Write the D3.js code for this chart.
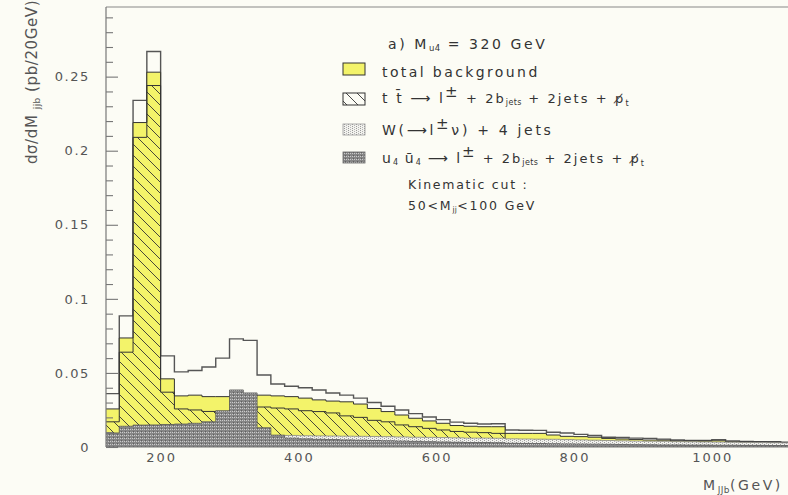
<!DOCTYPE html>
<html>
<head>
<meta charset="utf-8">
<script src="https://cdn.jsdelivr.net/npm/d3@7"></script>
<style>
html, body { margin: 0; padding: 0; background: #fcfcf5; }
svg { display: block; font-family: "DejaVu Sans", sans-serif; }
</style>
</head>
<body>
<div id="chart"></div>
<script>
// lower edge of each 20 GeV bin
var binLow = [120,140,160,180,200,220,240,260,280,300,320,340,360,380,400,420,440,460,480,500,
              520,540,560,580,600,620,640,660,680,700,720,740,760,780,800,820,840,860,880,900,
              920,940,960,980,1000,1020,1040,1060,1080,1100]
var binWidth = 20

// signal + background (white, outlined)
var totalSigBkg = [0.036,0.0885,0.234,0.267,0.0615,0.0507,0.0516,0.054,0.060,0.073,0.072,0.0486,0.0425,0.041,0.040,0.0385,0.0365,0.035,0.033,0.030,
                   0.0275,0.025,0.0225,0.0203,0.0185,0.0168,0.016,0.0155,0.0157,0.0115,0.0113,0.0112,0.010,0.0094,0.0085,0.0078,0.0066,0.0064,0.006,0.0058,
                   0.0053,0.0047,0.0045,0.0044,0.005,0.004,0.0037,0.0036,0.0035,0.0032]
// total background (yellow)
var totalBkg = [0.0257,0.0736,0.219,0.253,0.046,0.0345,0.035,0.034,0.034,0.0345,0.0345,0.035,0.0345,0.034,0.033,0.0318,0.031,0.0305,0.029,0.026,
                0.0239,0.0216,0.0194,0.0176,0.016,0.0145,0.014,0.0137,0.0137,0.0092,0.0092,0.0092,0.0081,0.0072,0.007,0.0066,0.0058,0.0054,0.005,0.0047,
                0.0046,0.0041,0.004,0.004,0.0042,0.0035,0.0034,0.0033,0.0032,0.0029]
// t tbar (hatched)
var ttbar = [0.017,0.064,0.209,0.244,0.037,0.0257,0.025,0.024,0.0235,0.025,0.025,0.027,0.0263,0.0257,0.0245,0.0239,0.023,0.021,0.020,0.018,
             0.017,0.0149,0.0137,0.0126,0.0115,0.0105,0.010,0.0097,0.0092,0.0048,0.0047,0.0046,0.0044,0.0042,0.004,0.0038,0.0036,0.0034,0.0032,0.0031,
             0.003,0.0029,0.0028,0.0027,0.0026,0.0025,0.0024,0.0023,0.0022,0.0021]
// W + 4 jets (light stipple)
var wjets = [0.006,0.007,0.008,0.008,0.008,0.008,0.008,0.008,0.008,0.008,0.008,0.008,0.0078,0.0078,0.0076,0.0075,0.0074,0.0073,0.0072,0.0071,
             0.007,0.0068,0.0066,0.0065,0.0064,0.0062,0.006,0.006,0.0059,0.0055,0.0054,0.0053,0.0052,0.005,0.0048,0.0046,0.0044,0.0042,0.004,0.0039,
             0.0038,0.0036,0.0035,0.0034,0.0033,0.0032,0.0031,0.003,0.0029,0.0028]
// u4 u4bar signal (dark stipple)
var signal = [0.0095,0.014,0.0148,0.0149,0.0152,0.0155,0.016,0.017,0.0245,0.0385,0.0365,0.013,0.008,0.006,0.0055,0.0052,0.005,0.0048,0.0046,0.0044,
              0.0042,0.004,0.0038,0.0036,0.0034,0.0032,0.003,0.003,0.0029,0.0025,0.0024,0.0023,0.0022,0.0021,0.002,0.0019,0.0018,0.0017,0.0016,0.0015,
              0.0014,0.0014,0.0013,0.0013,0.0012,0.0012,0.0011,0.0011,0.001,0.001]

var yTicks = [0, 0.05, 0.1, 0.15, 0.2, 0.25]
var yTickLabels = ["0", "0.05", "0.1", "0.15", "0.2", "0.25"]
var yMinor = [0.01,0.02,0.03,0.04,0.06,0.07,0.08,0.09,0.11,0.12,0.13,0.14,0.16,0.17,0.18,0.19,0.21,0.22,0.23,0.24,0.26,0.27,0.28,0.29]
var xTicks = [200, 400, 600, 800, 1000]

var width = 788, height = 495
var plotLeft = 106, plotTop = 7, plotBottom = 447

var svg = d3.select("#chart").append("svg")
    .attr("width", width)
    .attr("height", height)

svg.append("rect").attr("width", width).attr("height", height).attr("fill", "#fcfcf5")

var x = d3.scaleLinear().domain([120, 1120]).range([105.5, 105.5 + 1000 * 0.689])
var y = d3.scaleLinear().domain([0, 0.297]).range([plotBottom, plotTop])

// patterns
var defs = svg.append("defs")

var hatch = defs.append("pattern").attr("id", "hatch")
    .attr("patternUnits", "userSpaceOnUse").attr("width", 11).attr("height", 11)
hatch.append("path")
    .attr("d", "M0,0L11,11M-4,7L4,15M7,-4L15,4")
    .attr("stroke", "#333").attr("stroke-width", 0.9)

var hatchBox = defs.append("pattern").attr("id", "hatchBox")
    .attr("patternUnits", "userSpaceOnUse").attr("width", 11).attr("height", 11)
hatchBox.append("rect").attr("width", 11).attr("height", 11).attr("fill", "#fcfcf5")
hatchBox.append("path")
    .attr("d", "M0,0L11,11M-4,7L4,15M7,-4L15,4")
    .attr("stroke", "#333").attr("stroke-width", 0.9)

var sigPat = defs.append("pattern").attr("id", "sigPat")
    .attr("patternUnits", "userSpaceOnUse").attr("width", 4).attr("height", 3)
sigPat.append("rect").attr("width", 4).attr("height", 3).attr("fill", "#868686")
sigPat.append("rect").attr("x", 0).attr("y", 0).attr("width", 1).attr("height", 1).attr("fill", "#cbcbcb")
sigPat.append("rect").attr("x", 2).attr("y", 0).attr("width", 1).attr("height", 1).attr("fill", "#cbcbcb")
sigPat.append("rect").attr("x", 1).attr("y", 2).attr("width", 1).attr("height", 1).attr("fill", "#606060")

var wPat = defs.append("pattern").attr("id", "wPat")
    .attr("patternUnits", "userSpaceOnUse").attr("width", 4).attr("height", 2)
wPat.append("rect").attr("width", 4).attr("height", 2).attr("fill", "#f2f2ee")
wPat.append("rect").attr("x", 0).attr("y", 0).attr("width", 1).attr("height", 1).attr("fill", "#9a9a9a")
wPat.append("rect").attr("x", 2).attr("y", 1).attr("width", 1).attr("height", 1).attr("fill", "#b5b5b5")

defs.append("clipPath").attr("id", "plotClip")
    .append("rect").attr("x", plotLeft).attr("y", plotTop).attr("width", width - plotLeft).attr("height", plotBottom - plotTop)

function steps(vals) {
    var pts = []
    vals.forEach(function(v, i) {
        pts.push([binLow[i], v])
        pts.push([binLow[i] + binWidth, v])
    })
    return pts
}

var area = d3.area()
    .x(function(d) { return x(d[0]) })
    .y0(y(0))
    .y1(function(d) { return y(d[1]) })

var line = d3.line()
    .x(function(d) { return x(d[0]) })
    .y(function(d) { return y(d[1]) })

var g = svg.append("g").attr("clip-path", "url(#plotClip)")

var layers = [
    { vals: totalSigBkg, fill: "none", stroke: "#555", sw: 1.4 },
    { vals: totalBkg, fill: "#f3f36a", stroke: "#333", sw: 1 },
    { vals: ttbar, fill: "url(#hatch)", stroke: "#333", sw: 1 },
    { vals: wjets, fill: "url(#wPat)", stroke: "#888", sw: 0.8 },
    { vals: signal, fill: "url(#sigPat)", stroke: "#555", sw: 0.8 }
]

layers.forEach(function(l) {
    var pts = steps(l.vals)
    if (l.fill != "none") {
        g.append("path").datum(pts).attr("d", area).attr("fill", l.fill)
    }
    g.append("path").datum(pts).attr("d", line)
        .attr("fill", "none").attr("stroke", l.stroke).attr("stroke-width", l.sw)
})

// frame and axes
svg.append("line").attr("x1", plotLeft).attr("x2", width).attr("y1", plotTop).attr("y2", plotTop)
    .attr("stroke", "#888").attr("stroke-width", 1.2)
svg.append("line").attr("x1", plotLeft).attr("x2", width).attr("y1", plotBottom).attr("y2", plotBottom)
    .attr("stroke", "#777").attr("stroke-width", 1)

svg.append("g").attr("transform", "translate(" + plotLeft + ",0)")
    .call(d3.axisRight(y).tickValues(yMinor).tickSize(7).tickFormat(""))
svg.append("g").attr("transform", "translate(" + plotLeft + ",0)")
    .call(d3.axisRight(y).tickValues(yTicks).tickSize(12).tickFormat(""))
svg.selectAll(".domain").remove()
svg.selectAll(".tick line").attr("stroke", "#777").attr("stroke-width", 1.1)
svg.append("line").attr("x1", plotLeft).attr("x2", plotLeft).attr("y1", plotTop).attr("y2", plotBottom)
    .attr("stroke", "#777").attr("stroke-width", 1.2)

svg.append("g").selectAll("text")
    .data(yTicks)
    .enter()
    .append("text")
    .attr("x", 90)
    .attr("y", function(d) { return y(d) })
    .attr("dy", "0.36em")
    .attr("text-anchor", "end")
    .attr("font-size", 13)
    .attr("letter-spacing", 1.6)
    .attr("fill", "#555")
    .text(function(d, i) { return yTickLabels[i] })

svg.append("g").selectAll("text")
    .data(xTicks)
    .enter()
    .append("text")
    .attr("x", function(d) { return x(d) + 1 })
    .attr("y", 462)
    .attr("text-anchor", "middle")
    .attr("font-size", 13)
    .attr("letter-spacing", 2)
    .attr("fill", "#555")
    .text(function(d) { return d })

// rich text helper: parts = [text, fontSize, shift]
function rich(sel, px, py, parts, spacing, anchor, transform, colour) {
    var t = sel.append("text").attr("x", px).attr("y", py)
        .attr("fill", colour || "#333").attr("letter-spacing", spacing)
    if (anchor) t.attr("text-anchor", anchor)
    if (transform) t.attr("transform", transform)
    var cur = 0
    parts.forEach(function(p) {
        t.append("tspan")
            .attr("dy", p[2] - cur)
            .attr("font-size", p[1])
            .attr("letter-spacing", p[1] < 11 ? 0.4 : spacing)
            .text(p[0])
        cur = p[2]
    })
    return t
}

// axis titles
rich(svg, 0, 0, [["d\u03c3/dM ", 15, 0], ["jjb", 9, 3], [" (pb/20GeV)", 15, 0]], 0.6, "middle",
    "translate(37,82) rotate(-90)", "#555")
rich(svg, 703, 490, [["M", 14, 0], ["JJb", 9, 3], ["(GeV)", 14, 0]], 2.6, null, null, "#555")

// legend
var leg = svg.append("g")
rich(leg, 388, 49, [["a)  M", 14, 0], ["u4", 8.5, 2], [" = 320 GeV", 14, 0]], 2.6)

leg.append("rect").attr("x", 343).attr("y", 63).attr("width", 22).attr("height", 12)
    .attr("fill", "#f3f36a").attr("stroke", "#333").attr("stroke-width", 1)
leg.append("rect").attr("x", 343).attr("y", 93).attr("width", 22).attr("height", 12)
    .attr("fill", "url(#hatchBox)").attr("stroke", "#333").attr("stroke-width", 1)
leg.append("rect").attr("x", 343).attr("y", 124).attr("width", 22).attr("height", 11)
    .attr("fill", "url(#wPat)").attr("stroke", "#999").attr("stroke-width", 0.8)
leg.append("rect").attr("x", 343).attr("y", 152).attr("width", 22).attr("height", 11)
    .attr("fill", "url(#sigPat)").attr("stroke", "#666").attr("stroke-width", 0.8)

rich(leg, 382, 77, [["total background", 14, 0]], 2.4)
rich(leg, 382, 103, [["t t\u0304 \u27f6 l", 14, 0], ["\u00b1", 15, -6], [" + 2b", 13, 0], ["jets", 8, 2],
    [" + 2jets + p\u0338", 13, 0], ["t", 8, 3]], 2.1)
rich(leg, 382, 135, [["W(\u27f6l", 14, 0], ["\u00b1", 15, -6], ["\u03bd) + 4 jets", 14, 0]], 2.7)
rich(leg, 382, 163, [["u", 14, 0], ["4", 8, 2], [" u\u0304", 14, 0], ["4", 8, 2], [" \u27f6 l", 14, 0],
    ["\u00b1", 15, -6], [" + 2b", 13, 0], ["jets", 8, 2], [" + 2jets + p\u0338", 13, 0], ["t", 8, 3]], 2.0)

rich(leg, 408, 189, [["Kinematic cut :", 12.5, 0]], 1.75)
rich(leg, 408, 210, [["50<M", 12.5, 0], ["jj", 7.5, 2], ["<100 GeV", 12.5, 0]], 1.8)
</script>
</body>
</html>
